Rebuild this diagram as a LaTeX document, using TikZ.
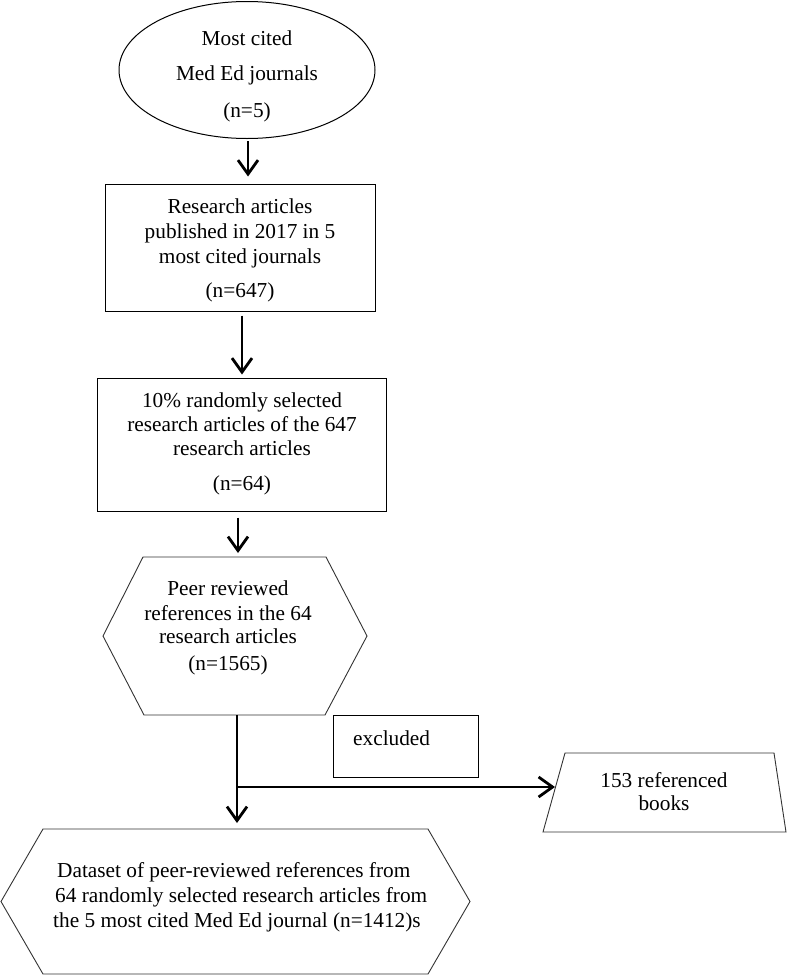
\documentclass[tikz,border=0pt]{standalone}
\usepackage{fontspec}
\setmainfont{Liberation Serif}
\usetikzlibrary{arrows.meta,shapes.geometric,calc}
\begin{document}
\begin{tikzpicture}[x=1pt,y=-1pt,
  txt/.style={inner sep=0pt, anchor=base, font=\fontsize{21.3}{25}\selectfont},
  txtl/.style={txt, anchor=base west},
  frame/.style={draw=black, line width=1pt, inner sep=0pt},
  ghost/.style={inner sep=0pt, outer sep=0pt},
  hexline/.style={draw=black!80, line width=0.9pt},
  arr/.style={line width=2.8pt, -{Straight Barb[length=14pt,width=20pt]}},
]
\useasboundingbox (0,0) rectangle (787,980);

% ellipse
\node[frame, ellipse, minimum width=256pt, minimum height=137pt] (ell) at (247,70) {};
\node[txt] (e1) at (247,45) {Most cited};
\node[txt] (e2) at (247,80) {Med Ed journals};
\node[txt] (e3) at (247,117) {(n=5)};

% box 1
\node[frame, rectangle, minimum width=270pt, minimum height=127pt] (b1) at (240,247.5) {};
\node[txt] (b1a) at (240,213) {Research articles};
\node[txt] (b1b) at (240,238) {published in 2017 in 5};
\node[txt] (b1c) at (240,263) {most cited journals};
\node[txt] (b1d) at (240,297) {(n=647)};

% box 2
\node[frame, rectangle, minimum width=289pt, minimum height=133pt] (b2) at (241.5,444.5) {};
\node[txt] (b2a) at (242,407) {10\% randomly selected};
\node[txt] (b2b) at (242,431) {research articles of the 647};
\node[txt] (b2c) at (242,455) {research articles};
\node[txt] (b2d) at (242,490) {(n=64)};

% hexagon 1
\node[ghost, rectangle, minimum width=264pt, minimum height=158pt] (h1) at (235,636) {};
\draw[hexline] (h1.west) -- ([xshift=40pt]h1.north west) -- ([xshift=-41pt]h1.north east)
  -- (h1.east) -- ([xshift=-42pt]h1.south east) -- ([xshift=41pt]h1.south west) -- cycle;
\node[txt] (h1a) at (228,595) {Peer reviewed};
\node[txt] (h1b) at (228,620) {references in the 64};
\node[txt] (h1c) at (228,643) {research articles};
\node[txt] (h1d) at (228,670) {(n=1565)};

% excluded box
\node[frame, rectangle, minimum width=145pt, minimum height=62pt] (ex) at (405.5,746) {};
\node[txtl] (ext) at (353,745) {excluded};

% trapezoid
\node[ghost, rectangle, minimum width=243pt, minimum height=79pt] (tz) at (664.5,792.5) {};
\draw[hexline] (tz.south west) -- ([xshift=22pt]tz.north west) -- ([xshift=-12pt]tz.north east)
  -- (tz.south east) -- cycle;
\node[txt] (tza) at (664,787) {153 referenced};
\node[txt] (tzb) at (664,810) {books};

% hexagon 2
\node[ghost, rectangle, minimum width=469pt, minimum height=145pt] (h2) at (235.5,901.5) {};
\draw[hexline] (h2.west) -- ([xshift=42pt]h2.north west) -- ([xshift=-42pt]h2.north east)
  -- (h2.east) -- ([xshift=-42pt]h2.south east) -- ([xshift=42pt]h2.south west) -- cycle;
\node[txtl] (h2a) at (57,877) {Dataset of peer-reviewed references from};
\node[txtl] (h2b) at (55,902) {64 randomly selected research articles from};
\node[txtl] (h2c) at (53,927) {the 5 most cited Med Ed journal (n=1412)s};

% connectors
\coordinate (a1s) at ($(ell.south)+(1,0)$);
\draw[arr, shorten <=2pt, shorten >=7pt] (a1s) -- (a1s |- b1.north);
\coordinate (a2s) at ($(b1.south)+(2,0)$);
\draw[arr, shorten <=4pt, shorten >=3pt] (a2s) -- (a2s |- b2.north);
\coordinate (a3s) at ($(b2.south)+(-3.5,0)$);
\draw[arr, shorten <=6pt, shorten >=4pt] (a3s) -- (a3s |- h1.north);
\coordinate (jn) at (237,787);
\coordinate (tzin) at (555,787);
\draw[arr, shorten >=6pt] (h1.south -| jn) -- (jn |- h2.north);
\draw[arr] (jn) -- (tzin);
\end{tikzpicture}
\end{document}
